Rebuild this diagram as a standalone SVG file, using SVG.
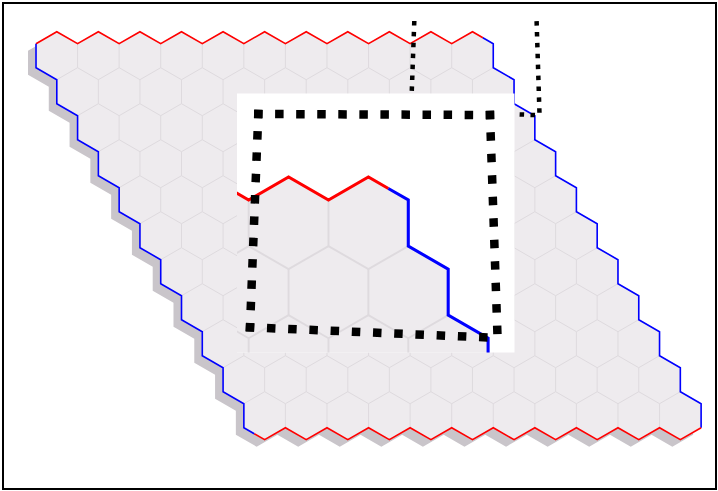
<svg xmlns="http://www.w3.org/2000/svg" xmlns:xlink="http://www.w3.org/1999/xlink" width="718" height="491" viewBox="0 0 718 491">
<style>
.grid{fill:none;stroke:#dedade;stroke-width:1}
.red{fill:none;stroke:#ff0000;stroke-width:1.6;stroke-linejoin:miter}
.blue{fill:none;stroke:#0000ff;stroke-width:1.6;stroke-linejoin:miter}
.sdot{fill:none;stroke:#000;stroke-width:4.5;stroke-dasharray:4.5 6.4}
.bdot{fill:none;stroke:#000;stroke-width:8.5}
</style>
<defs>
<path id="outline" d="M36 43.7l20.785-12 20.785 12 20.785-12 20.785 12 20.785-12 20.785 12 20.785-12 20.785 12 20.785-12 20.785 12 20.785-12 20.785 12 20.785-12 20.785 12 20.785-12 20.785 12 20.785-12 20.785 12 20.785-12 20.785 12 20.785-12 20.785 12v24l20.785 12v24l20.785 12v24l20.785 12v24l20.785 12v24l20.785 12v24l20.785 12v24l20.785 12v24l20.785 12v24l20.785 12v24l20.785 12v24l-20.785 12-20.785-12-20.785 12-20.785-12-20.785 12-20.785-12-20.785 12-20.785-12-20.785 12-20.785-12-20.785 12-20.785-12-20.785 12-20.785-12-20.785 12-20.785-12-20.785 12-20.785-12-20.785 12-20.785-12-20.785 12-20.785-12v-24l-20.785-12v-24l-20.785-12v-24l-20.785-12v-24l-20.785-12v-24l-20.785-12v-24l-20.785-12v-24l-20.785-12v-24l-20.785-12v-24l-20.785-12v-24l-20.785-12v-24z"/>
<path id="zz" d="M0 0l20.785-12 20.785 12 20.785-12 20.785 12 20.785-12 20.785 12 20.785-12 20.785 12 20.785-12 20.785 12 20.785-12 20.785 12 20.785-12 20.785 12 20.785-12 20.785 12 20.785-12 20.785 12 20.785-12 20.785 12 20.785-12 20.785 12"/>
<path id="vv" d="M0 0v24m41.569-24v24m41.569-24v24m41.569-24v24m41.569-24v24m41.569-24v24m41.569-24v24m41.569-24v24m41.569-24v24m41.569-24v24m41.569-24v24m41.569-24v24"/>
<clipPath id="insetclip"><rect x="237" y="93.5" width="277.5" height="259"/></clipPath>
</defs>
<rect x="0" y="0" width="718" height="491" fill="#ffffff"/>
<rect id="frame" x="3" y="3" width="713" height="486" fill="none" stroke="#000" stroke-width="2"/>
<use id="shadow" xlink:href="#outline" href="#outline" fill="#c9c5ca" transform="translate(-8 7)"/>
<g id="board">
<use xlink:href="#outline" href="#outline" fill="#eeebee"/>
<g class="grid">
<use href="#zz" x="36" y="43.7"/><use href="#vv" x="36" y="43.7"/>
<use href="#zz" x="56.785" y="79.7"/><use href="#vv" x="56.785" y="79.7"/>
<use href="#zz" x="77.57" y="115.7"/><use href="#vv" x="77.57" y="115.7"/>
<use href="#zz" x="98.355" y="151.7"/><use href="#vv" x="98.355" y="151.7"/>
<use href="#zz" x="119.14" y="187.7"/><use href="#vv" x="119.14" y="187.7"/>
<use href="#zz" x="139.925" y="223.7"/><use href="#vv" x="139.925" y="223.7"/>
<use href="#zz" x="160.71" y="259.7"/><use href="#vv" x="160.71" y="259.7"/>
<use href="#zz" x="181.495" y="295.7"/><use href="#vv" x="181.495" y="295.7"/>
<use href="#zz" x="202.28" y="331.7"/><use href="#vv" x="202.28" y="331.7"/>
<use href="#zz" x="223.065" y="367.7"/><use href="#vv" x="223.065" y="367.7"/>
<use href="#zz" x="243.85" y="403.7"/><use href="#vv" x="243.85" y="403.7"/>
</g>
<path class="red" d="M36 43.7l20.785-12 20.785 12 20.785-12 20.785 12 20.785-12 20.785 12 20.785-12 20.785 12 20.785-12 20.785 12 20.785-12 20.785 12 20.785-12 20.785 12 20.785-12 20.785 12 20.785-12 20.785 12 20.785-12 20.785 12 20.785-12 10.392 6"/>
<path class="blue" d="M482.87 37.7l10.392 6v24l20.785 12v24l20.785 12v24l20.785 12v24l20.785 12v24l20.785 12v24l20.785 12v24l20.785 12v24l20.785 12v24l20.785 12v24l20.785 12v24"/>
<path class="red" d="M701.12 427.7l-20.785 12-20.785-12-20.785 12-20.785-12-20.785 12-20.785-12-20.785 12-20.785-12-20.785 12-20.785-12-20.785 12-20.785-12-20.785 12-20.785-12-20.785 12-20.785-12-20.785 12-20.785-12-20.785 12-20.785-12-20.785 12-10.392-6"/>
<path class="blue" d="M254.25 433.7l-10.392-6v-24l-20.785-12v-24l-20.785-12v-24l-20.785-12v-24l-20.785-12v-24l-20.785-12v-24l-20.785-12v-24l-20.785-12v-24l-20.785-12v-24l-20.785-12v-24l-20.785-12v-24"/>
</g>
<g id="small-frame">
<path class="sdot" d="M414.3 21L411.1 110"/>
<path class="sdot" d="M536.6 21.1L539.5 114"/>
<path class="sdot" d="M535 115.1L411 109.6"/>
</g>
<g id="inset">
<rect x="237" y="93.5" width="277.5" height="259" fill="#ffffff"/>
<g clip-path="url(#insetclip)">
<use href="#board" transform="matrix(1.92 0 0 1.92 -538.78 116.1)"/>
</g>
<path class="bdot" stroke-dasharray="8.5 12.56" d="M254.05 113.98L494.25 115.02"/>
<path class="bdot" stroke-dasharray="8.5 12.85" d="M258.47 109.75L249.83 331.55"/>
<path class="bdot" stroke-dasharray="8.5 13.01" d="M489.86 110.75L497.44 334.25"/>
<path class="bdot" stroke-dasharray="8.5 12.73" d="M245.75 327.12L487.55 337.48"/>
</g>
</svg>
